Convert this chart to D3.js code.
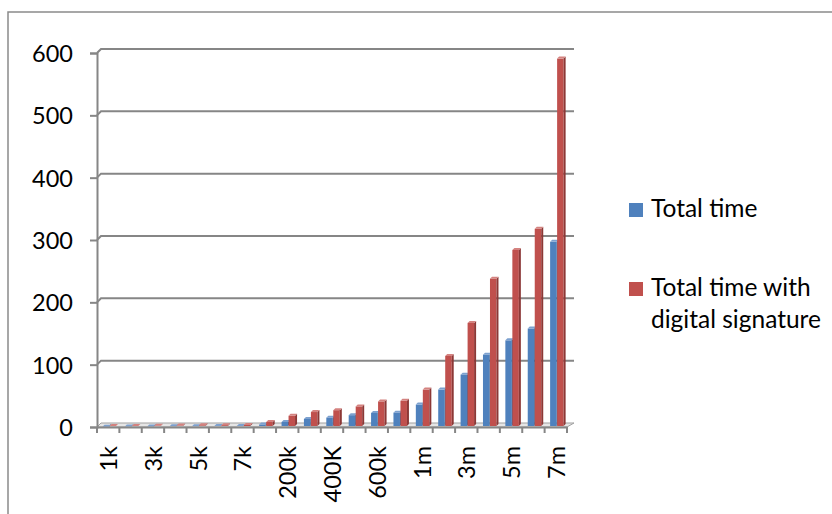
<!DOCTYPE html>
<html>
<head>
<meta charset="utf-8">
<script src="https://cdn.jsdelivr.net/npm/d3@7"></script>
<style>
  html, body { margin: 0; padding: 0; background: #fff; }
  svg { display: block; font-family: Lato, "Open Sans", sans-serif; }
</style>
</head>
<body>
<svg id="chart" width="832" height="514"></svg>
<script>
// Input sizes (every other one is labelled on the axis)
const categories = ["1k","2k","3k","4k","5k","6k","7k","100k","200k","300k","400K","500k",
                    "600k","800k","1m","2m","3m","4m","5m","6m","7m"];
// Total time per input size
const totalTime = [0.6,0.8,1,1.2,1.4,1.6,1.8,4,8,13,15,19,22.5,23,36,60,84,116,139,158,297];
// Total time when a digital signature is added
const totalTimeSig = [1.5,1.8,2.1,2.4,2.7,3,3.3,8,18,24,27,33,41,42,60,114,167,238,284,318,591];
const yTicks = [0,100,200,300,400,500,600];
const seriesNames = ["Total time", "Total time with\ndigital signature"];

const svg = d3.select("#chart");
const axisColor = "#868686";
const depth = { dx: 4, dy: -4 };      // back wall offset
const barDepth = { dx: 2, dy: -2 };   // bar side/top offset

const x = d3.scaleBand().domain(categories).range([97, 567]).padding(0);
const y = d3.scaleLinear().domain([0, 600]).range([427, 53]);

const palette = [
  { front: "#4F81BD", side: "#395E8C", top: "#7DA1CF" },
  { front: "#C0504D", side: "#8C3836", top: "#D4827F" }
];

// outer chart border
svg.append("rect").attr("x", 8).attr("y", 12).attr("width", 840).attr("height", 520)
  .attr("fill", "none").attr("stroke", "#8a8a8a").attr("stroke-width", 1.5);

// floor
const x0 = x.range()[0], x1 = x.range()[1];
svg.append("path")
  .attr("d", `M${x0},${y(0)}L${x1},${y(0)}L${x1 + depth.dx + 3},${y(0) + depth.dy}L${x0 + depth.dx},${y(0) + depth.dy}Z`)
  .attr("fill", "#e6e6e6").attr("stroke", "#a0a0a0").attr("stroke-width", 1);

// gridlines on the back wall with the short depth connector
const grid = svg.append("g");
yTicks.filter(v => v > 0).forEach(v => {
  grid.append("path")
    .attr("d", `M${x0},${y(v)}L${x0 + depth.dx},${y(v) + depth.dy}L${x1 + depth.dx + 3},${y(v) + depth.dy}`)
    .attr("fill", "none").attr("stroke", axisColor).attr("stroke-width", 2);
});

// y axis
const yAxis = svg.append("g").attr("transform", `translate(${x0},0)`)
  .call(d3.axisLeft(y).tickValues(yTicks).tickSize(7).tickPadding(17).tickFormat(d3.format("d")));
yAxis.select(".domain").attr("stroke", axisColor).attr("stroke-width", 2);
yAxis.selectAll(".tick line").attr("stroke", axisColor).attr("stroke-width", 2);
yAxis.selectAll(".tick text").attr("font-size", 23.5).attr("fill", "#000")
  .attr("font-family", "Lato, 'Open Sans', sans-serif").attr("dy", "0.36em");

// bars
const series = [totalTime, totalTimeSig];
const bw = 6.5;
const bars = svg.append("g");
series.forEach((vals, si) => {
  const c = palette[si];
  const g = bars.append("g");
  categories.forEach((cat, i) => {
    const left = x(cat) + 5.5 + si * (bw + 0.5);
    const top = y(vals[i]);
    const base = y(0) - 1;
    // front face
    g.append("rect").attr("x", left).attr("y", top).attr("width", bw).attr("height", Math.max(0, base - top))
      .attr("fill", c.front);
    // right side face
    g.append("path")
      .attr("d", `M${left + bw},${top}L${left + bw + barDepth.dx},${top + barDepth.dy}L${left + bw + barDepth.dx},${base + barDepth.dy}L${left + bw},${base}Z`)
      .attr("fill", c.side);
    // top face
    g.append("path")
      .attr("d", `M${left},${top}L${left + barDepth.dx},${top + barDepth.dy}L${left + bw + barDepth.dx},${top + barDepth.dy}L${left + bw},${top}Z`)
      .attr("fill", c.top);
  });
});

// x axis
const xAxis = svg.append("g").attr("transform", `translate(0,${y(0)})`)
  .call(d3.axisBottom(x).tickSize(0).tickFormat(""));
xAxis.select(".domain").attr("stroke", axisColor).attr("stroke-width", 2);
// tick marks at category boundaries
const bounds = categories.map(c => x(c)).concat([x1]);
xAxis.selectAll("line.bound").data(bounds).enter().append("line")
  .attr("class", "bound").attr("x1", d => d).attr("x2", d => d).attr("y1", 0).attr("y2", 6)
  .attr("stroke", axisColor).attr("stroke-width", 2);
// rotated labels on every other category
svg.append("g").selectAll("text")
  .data(categories.filter((c, i) => i % 2 === 0))
  .enter().append("text")
  .attr("transform", d => `translate(${x(d) + x.bandwidth() / 2 + 9},${446}) rotate(-90)`)
  .attr("text-anchor", "end")
  .attr("font-size", 23.5)
  .attr("fill", "#000")
  .text(d => d);

// legend
const legend = svg.append("g");
const legendRows = [
  { name: seriesNames[0], color: palette[0].front, y: 217 },
  { name: seriesNames[1], color: palette[1].front, y: 296 }
];
legendRows.forEach(r => {
  legend.append("rect").attr("x", 629).attr("y", r.y - 14).attr("width", 14).attr("height", 14)
    .attr("fill", r.color);
  const t = legend.append("text").attr("x", 651).attr("y", r.y).attr("font-size", 24.5).attr("fill", "#000");
  r.name.split("\n").forEach((line, k) => {
    t.append("tspan").attr("x", 651).attr("dy", k === 0 ? 0 : 32).text(line);
  });
});
</script>
</body>
</html>
